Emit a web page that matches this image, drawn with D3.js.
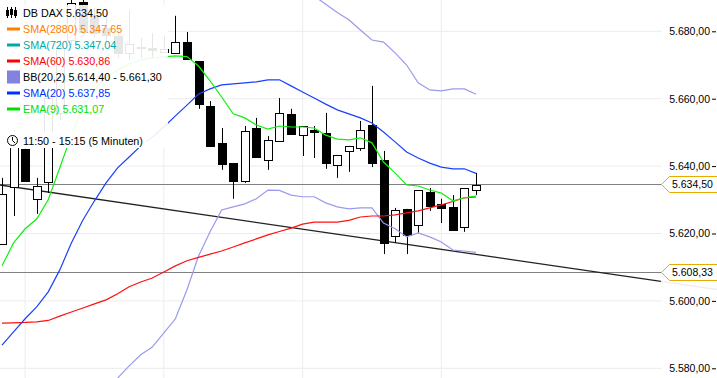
<!DOCTYPE html>
<html>
<head>
<meta charset="utf-8">
<script src="https://cdn.jsdelivr.net/npm/d3@7"></script>
<style>
  html, body { margin: 0; padding: 0; background: #fff; }
  svg { display: block; }
  text { font-family: "Liberation Sans", Arial, sans-serif; }
</style>
</head>
<body>
<div id="chart"></div>
<script>
// candles, oldest first (5 minute bars)
const opens = [5616.9, 5633.8, 5645.1, 5630.3, 5635.3, 5655.8, 5677.4, 5688.7, 5684.9, 5681.0, 5678.6, 5673.6, 5675.0, 5675.1, 5673.9, 5673.6, 5676.8, 5671.2, 5657.8, 5646.9, 5640.9, 5635.6, 5651.3, 5641.8, 5647.5, 5655.5, 5649.2, 5650.7, 5649.8, 5640.3, 5644.5, 5645.4, 5652.2, 5641.8, 5619.3, 5627.3, 5622.5, 5632.3, 5628.8, 5627.9, 5621.9, 5632.9];
const highs = [5636.5, 5650.7, 5645.1, 5636.5, 5663.2, 5677.4, 5689.3, 5689.3, 5686.9, 5685.7, 5680.4, 5686.3, 5678.0, 5679.5, 5678.6, 5684.6, 5679.8, 5671.2, 5659.3, 5651.3, 5640.9, 5651.9, 5654.3, 5648.9, 5660.2, 5657.0, 5651.9, 5651.9, 5655.8, 5643.3, 5646.0, 5653.4, 5663.8, 5644.5, 5627.6, 5627.3, 5632.9, 5633.5, 5630.3, 5631.4, 5633.5, 5638.0];
const lows = [5616.9, 5625.2, 5635.6, 5625.8, 5632.0, 5653.7, 5675.9, 5678.6, 5678.0, 5676.8, 5672.1, 5671.5, 5672.1, 5672.1, 5673.9, 5673.6, 5671.8, 5657.0, 5646.0, 5638.9, 5630.3, 5635.0, 5642.7, 5638.9, 5647.5, 5649.5, 5643.0, 5642.4, 5639.2, 5636.5, 5638.3, 5644.5, 5639.7, 5613.9, 5617.2, 5613.9, 5620.2, 5626.7, 5623.1, 5621.1, 5620.5, 5631.4];
const closes = [5631.7, 5649.2, 5635.6, 5634.1, 5660.2, 5675.1, 5688.4, 5679.8, 5679.5, 5678.9, 5673.6, 5676.2, 5675.4, 5674.5, 5674.8, 5676.8, 5671.8, 5658.4, 5646.0, 5640.6, 5635.6, 5650.4, 5642.7, 5647.8, 5655.8, 5649.5, 5651.9, 5650.1, 5640.9, 5643.3, 5646.0, 5650.7, 5640.9, 5617.2, 5627.0, 5619.6, 5632.9, 5628.2, 5627.6, 5621.1, 5633.5, 5634.5];

// indicators, same order as the candles
const ema9 = [5610.4, 5617.2, 5621.4, 5624.3, 5630.0, 5639.5, 5649.2, 5657.6, 5662.6, 5666.2, 5668.5, 5670.3, 5671.5, 5672.1, 5672.4, 5672.7, 5672.5, 5669.7, 5665.3, 5660.5, 5655.5, 5654.3, 5652.2, 5651.0, 5651.9, 5651.6, 5651.6, 5651.3, 5649.2, 5648.0, 5647.8, 5648.4, 5646.9, 5641.2, 5638.0, 5634.4, 5634.1, 5632.9, 5632.0, 5629.7, 5630.6, 5631.07];
const sma20 = [5586.9, 5590.8, 5594.7, 5598.2, 5602.7, 5609.2, 5617.2, 5624.0, 5629.7, 5635.0, 5639.5, 5642.7, 5646.0, 5648.6, 5651.6, 5654.9, 5658.1, 5661.4, 5662.9, 5664.1, 5664.4, 5664.7, 5665.0, 5665.6, 5665.6, 5663.8, 5662.0, 5660.2, 5658.4, 5656.7, 5655.5, 5654.3, 5652.8, 5650.1, 5647.2, 5644.2, 5642.4, 5640.9, 5639.7, 5639.2, 5639.2, 5637.85];
const sma60 = [5593.4, 5593.5, 5593.6, 5593.8, 5594.2, 5595.5, 5596.7, 5597.9, 5599.1, 5600.3, 5602.1, 5604.2, 5605.6, 5606.8, 5608.6, 5610.4, 5611.9, 5612.9, 5613.9, 5614.8, 5616.0, 5617.2, 5618.4, 5619.6, 5620.6, 5621.6, 5622.8, 5623.4, 5623.4, 5623.4, 5623.9, 5624.9, 5625.2, 5625.2, 5625.5, 5626.1, 5626.7, 5627.6, 5628.5, 5629.5, 5630.6, 5630.86];
// bollinger bands only start further right, first index in the *Start consts
const bbLowerStart = 9;
const bbLower = [5573.9, 5577.1, 5580.7, 5584.0, 5586.3, 5590.5, 5594.7, 5603.3, 5613.3, 5620.5, 5627.0, 5627.9, 5628.8, 5630.3, 5632.9, 5632.8, 5631.4, 5630.9, 5630.9, 5629.1, 5627.9, 5627.3, 5627.6, 5627.6, 5623.1, 5621.4, 5619.0, 5620.2, 5619.0, 5617.5, 5615.1, 5614.8, 5614.4];
const bbUpperStart = 27;
const bbUpper = [5690.5, 5688.0, 5685.6, 5683.4, 5680.4, 5677.4, 5676.8, 5673.6, 5670.0, 5664.7, 5662.6, 5662.3, 5662.9, 5662.9, 5661.3];

const trendIndex = [-0.2, 57];
const trendPrice = [5634.4, 5605.8];
const trendFadeIndex = [57, 61.9];
const trendFadePrice = [5605.8, 5603.35];

const priceTicks = [5580, 5600, 5620, 5640, 5660, 5680];
const hourIndex = [2, 14, 26, 38];
const levels = [5634.5, 5608.33];

const legendLabels = ['DB DAX 5.634,50', 'SMA(2880) 5.347,65', 'SMA(720) 5.347,04', 'SMA(60) 5.630,86', 'BB(20,2) 5.614,40 - 5.661,30', 'SMA(20) 5.637,85', 'EMA(9) 5.631,07'];
const legendColors = ['#000000', '#ff8000', '#00a8a8', '#ff0000', '#000000', '#0030ff', '#00e000'];
const timeLabel = '11:50 - 15:15 (5 Minuten)';

const width = 717, height = 378, plotRight = 661.5;
const bbColor = '#9a9aea';

const svg = d3.select('#chart').append('svg').attr('width', width).attr('height', height);

const x = d3.scaleLinear().domain([0, 41]).range([2, 476]);
const y = d3.scaleLinear().domain([5580, 5680]).range([368.3, 31.3]);
const px = v => Math.round(x(v)) + 0.5;
const rowOf = v => Math.floor(y(v)) + 0.5;

const nf = d3.formatLocale({ decimal: ',', thousands: '.', grouping: [3], currency: ['', ''] }).format(',.2f');

svg.append('defs').append('clipPath').attr('id', 'plot')
  .append('rect').attr('width', plotRight).attr('height', height);

// grid
svg.append('g').selectAll('line').data(priceTicks).enter().append('line')
  .attr('x1', 0).attr('x2', plotRight)
  .attr('y1', d => y(d)).attr('y2', d => y(d))
  .attr('stroke', '#ececec').attr('stroke-width', 1);
svg.append('g').selectAll('line').data(hourIndex).enter().append('line')
  .attr('x1', d => x(d)).attr('x2', d => x(d))
  .attr('y1', 0).attr('y2', height)
  .attr('stroke', '#ececec').attr('stroke-width', 1);

// price axis, labels sit left of the small tick
const axis = d3.axisLeft(y).tickValues(priceTicks).tickFormat(nf).tickSize(4).tickPadding(2);
const axisG = svg.append('g').attr('transform', 'translate(716,0)').call(axis);
axisG.select('.domain').remove();
axisG.selectAll('.tick line').attr('stroke', '#000');
axisG.selectAll('.tick text').attr('fill', '#000').style('font-size', '10.5px').style('font-family', '"Liberation Sans", Arial, sans-serif');

const plot = svg.append('g').attr('clip-path', 'url(#plot)');

// level lines
plot.selectAll('.level').data(levels).enter().append('line').attr('class', 'level')
  .attr('x1', 0).attr('x2', plotRight)
  .attr('y1', d => rowOf(d)).attr('y2', d => rowOf(d))
  .attr('stroke', '#808080').attr('stroke-width', 1);

// trend line, continues very pale under the price scale
const pairLine = d3.line().x(d => x(d[0])).y(d => y(d[1]));
plot.append('path').attr('d', pairLine(d3.zip(trendIndex, trendPrice)))
  .attr('fill', 'none').attr('stroke', '#222').attr('stroke-width', 1.3);
svg.append('path').attr('d', pairLine(d3.zip(trendFadeIndex, trendFadePrice)))
  .attr('fill', 'none').attr('stroke', '#eeeeee').attr('stroke-width', 1.3);

// candles
const candles = plot.selectAll('.candle').data(opens.map((o, i) => i)).enter().append('g').attr('class', 'candle');
candles.append('line')
  .attr('x1', i => px(i)).attr('x2', i => px(i))
  .attr('y1', i => y(highs[i])).attr('y2', i => y(lows[i]))
  .attr('stroke', '#000').attr('stroke-width', 1);
candles.append('rect')
  .attr('x', i => px(i) - 4)
  .attr('y', i => Math.round(y(Math.max(opens[i], closes[i]))) + 0.5)
  .attr('width', 8)
  .attr('height', i => Math.max(1, Math.round(Math.abs(y(opens[i]) - y(closes[i])))))
  .attr('fill', i => closes[i] >= opens[i] ? '#fff' : '#000')
  .attr('stroke', '#000').attr('stroke-width', 1);

// indicator lines
const idxLine = start => d3.line().x((d, i) => x(i + start)).y(d => y(d));
const series = [
  { values: bbUpper, start: bbUpperStart, color: bbColor, w: 1.2 },
  { values: bbLower, start: bbLowerStart, color: bbColor, w: 1.2 },
  { values: sma60, start: 0, color: '#ff1010', w: 1.2 },
  { values: sma20, start: 0, color: '#1840ff', w: 1.2 },
  { values: ema9, start: 0, color: '#10f010', w: 1.2 }
];
plot.selectAll('.ind').data(series).enter().append('path').attr('class', 'ind')
  .attr('d', d => idxLine(d.start)(d.values))
  .attr('fill', 'none').attr('stroke', d => d.color).attr('stroke-width', d => d.w);

// level tags on the scale
const tags = svg.selectAll('.tag').data(levels).enter().append('g').attr('class', 'tag')
  .attr('transform', d => `translate(0,${rowOf(d)})`);
tags.append('path')
  .attr('d', `M717,-8 L669.5,-8 L661.5,0 L669.5,8 L717,8`)
  .attr('fill', '#fff').attr('stroke', '#e6ac00').attr('stroke-width', 1);
tags.append('text').attr('x', 672).attr('y', 3.5).attr('fill', '#000')
  .style('font-size', '10.5px').text(d => nf(d));

// washed out panel behind the legend
svg.append('rect').attr('x', 0).attr('y', 5).attr('width', 168).attr('height', 143)
  .attr('fill', '#fff').attr('fill-opacity', 0.9);
svg.append('rect').attr('x', 0).attr('y', 132).attr('width', 146).attr('height', 16)
  .attr('fill', '#fff');

const legend = svg.append('g');
const rowY = i => 13 + i * 16;
legend.selectAll('.lab').data(legendLabels).enter().append('text').attr('class', 'lab')
  .attr('x', 23).attr('y', (d, i) => rowY(i) + 4)
  .attr('fill', (d, i) => legendColors[i])
  .style('font-size', '10.75px').text(d => d);
// line swatches (skip the title row and the BB row)
legend.selectAll('.sw').data(d3.range(1, 7).filter(i => i !== 4)).enter().append('rect').attr('class', 'sw')
  .attr('x', 7).attr('y', i => rowY(i) - 1.5).attr('width', 13).attr('height', 3)
  .attr('fill', i => legendColors[i]);
legend.append('rect').attr('x', 7).attr('y', rowY(4) - 6.5).attr('width', 13).attr('height', 13)
  .attr('fill', '#8282e0');

// small candle icon in the title row
const icon = legend.append('g').attr('transform', `translate(0,${rowY(0)})`).attr('stroke', '#000').attr('fill', 'none');
[7.5, 11.5, 15.5].forEach((cx, i) => {
  icon.append('line').attr('x1', cx).attr('x2', cx).attr('y1', -6).attr('y2', 5);
  icon.append('rect').attr('x', cx - 1).attr('y', i === 1 ? -3.5 : -2.5).attr('width', 2).attr('height', 5).attr('fill', '#000');
});

// clock + time range
const clock = legend.append('g').attr('transform', 'translate(12.5,140.5)').attr('fill', 'none').attr('stroke', '#000');
clock.append('circle').attr('r', 5);
clock.append('path').attr('d', 'M0,-3.5 L0,0 L2.5,2.5');
legend.append('text').attr('x', 23).attr('y', 145).attr('fill', '#000').style('font-size', '10.75px').text(timeLabel);
</script>
</body>
</html>
